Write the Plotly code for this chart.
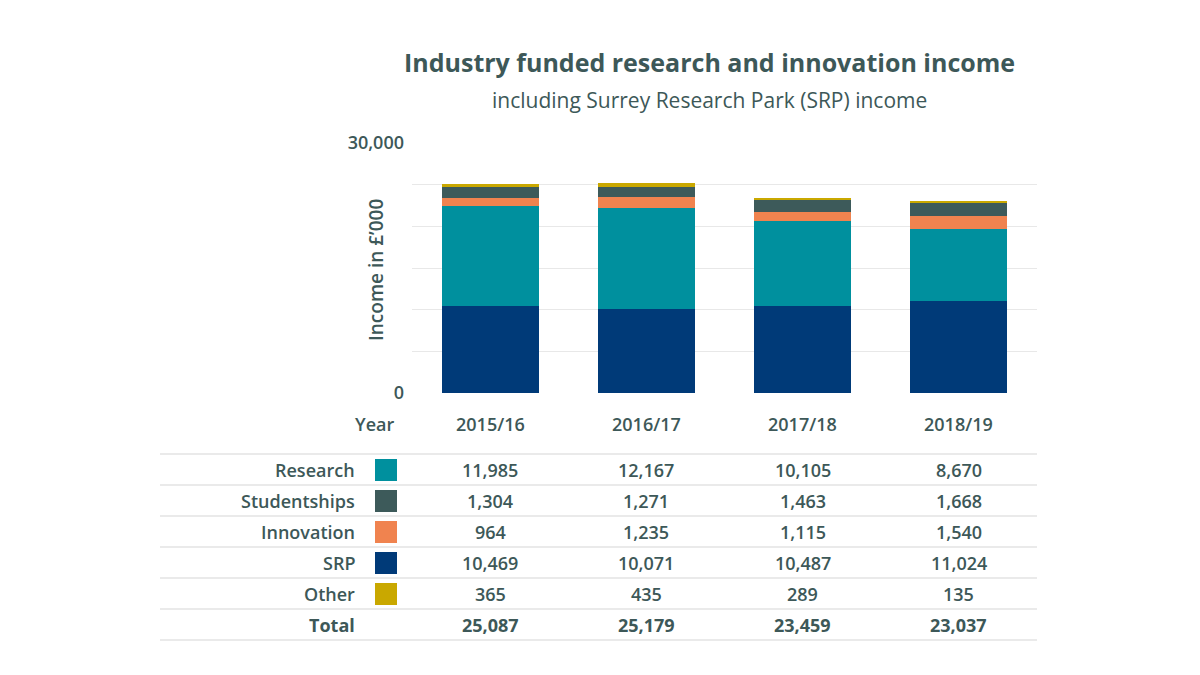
import plotly.graph_objects as go

years = ['2015/16', '2016/17', '2017/18', '2018/19']
research = [11985, 12167, 10105, 8670]
studentships = [1304, 1271, 1463, 1668]
innovation = [964, 1235, 1115, 1540]
srp = [10469, 10071, 10487, 11024]
other = [365, 435, 289, 135]
totals = [25087, 25179, 23459, 23037]

text_color = '#3d5858'
font_family = 'Open Sans'

# table rows in display order
rows = [
    ('Research', research, '#00909e'),
    ('Studentships', studentships, '#3d5a5a'),
    ('Innovation', innovation, '#f0834f'),
    ('SRP', srp, '#003a78'),
    ('Other', other, '#c9a800'),
]
colors = {name: c for name, _, c in rows}

fig = go.Figure()

# stack bottom to top
for name, vals in [('SRP', srp), ('Research', research), ('Innovation', innovation),
                   ('Studentships', studentships), ('Other', other)]:
    fig.add_trace(go.Bar(x=years, y=vals, name=name, marker_color=colors[name],
                         marker_line_width=0, width=0.62))

# pixel helpers relative to the plot area (x 412..1037, y 143..393 in the reference)
def px_y(p):
    return (393 - p) / 250

def px_x(p):
    return (p - 412) / 625

cell_font = dict(size=18, color=text_color, weight=600)

ann = []
shapes = []

def label(text, xp, yp, **kw):
    d = dict(x=px_x(xp), y=px_y(yp), xref='paper', yref='paper', text=text,
             xanchor='right', yanchor='middle', showarrow=False, font=cell_font)
    d.update(kw)
    ann.append(d)

def cell(text, yr, yp):
    ann.append(dict(x=yr, y=px_y(yp), xref='x', yref='paper', text=text,
                    xanchor='center', yanchor='middle', showarrow=False, font=cell_font))

# header row
label('Year', 396, 424)
for yr in years:
    cell(yr, yr, 424)

row_centers = [470, 501, 532, 563, 594]
for (name, vals, c), yc in zip(rows, row_centers):
    label(name, 357, yc)
    shapes.append(dict(type='rect', xref='paper', yref='paper',
                       x0=px_x(375), x1=px_x(397), y0=px_y(yc - 11), y1=px_y(yc + 11),
                       fillcolor=c, line_width=0))
    for yr, v in zip(years, vals):
        cell(f'{v:,}', yr, yc)

label('<b>Total</b>', 357, 625)
for yr, v in zip(years, totals):
    cell(f'<b>{v:,}</b>', yr, 625)

for p in [454, 485, 516, 547, 578, 609, 640]:
    shapes.append(dict(type='line', xref='paper', yref='paper', x0=px_x(160), x1=1,
                       y0=px_y(p), y1=px_y(p), line=dict(color='#e3e3e3', width=1.5)))

# axis title as annotation so it sits over the tick label column
ann.append(dict(x=px_x(376), y=px_y(270), xref='paper', yref='paper',
                text="Income in £’000", textangle=-90, showarrow=False,
                xanchor='center', yanchor='middle',
                font=dict(size=19, color=text_color, weight=600)))

# titles
ann.append(dict(x=px_x(709), y=px_y(62), xref='paper', yref='paper',
                text='<b>Industry funded research and innovation income</b>',
                xanchor='center', yanchor='middle',
                showarrow=False, font=dict(size=25, color=text_color)))
ann.append(dict(x=px_x(709), y=px_y(100), xref='paper', yref='paper',
                text='including Surrey Research Park (SRP) income',
                xanchor='center', yanchor='middle',
                showarrow=False, font=dict(size=21, color=text_color)))

fig.update_layout(
    width=1200, height=675,
    # page body has an 8px margin, so the plot area is nudged up/left by 8px
    margin=dict(l=404, r=171, t=135, b=290),
    barmode='stack',
    plot_bgcolor='white',
    paper_bgcolor='white',
    showlegend=False,
    font=dict(family=font_family, color=text_color),
    annotations=ann,
    shapes=shapes,
    xaxis=dict(showticklabels=False, showgrid=False, showline=False, zeroline=False),
    yaxis=dict(
        range=[0, 30000],
        tickvals=[0, 5000, 10000, 15000, 20000, 25000, 30000],
        ticktext=['0', '', '', '', '', '', '30,000'],
        tickfont=dict(size=18, color=text_color, weight=600),
        showgrid=True, gridcolor='#e8e8e8', gridwidth=1,
        zeroline=False, showline=False,
        ticks='', ticklabelstandoff=7,
    ),
)

fig.write_html("out.html")
